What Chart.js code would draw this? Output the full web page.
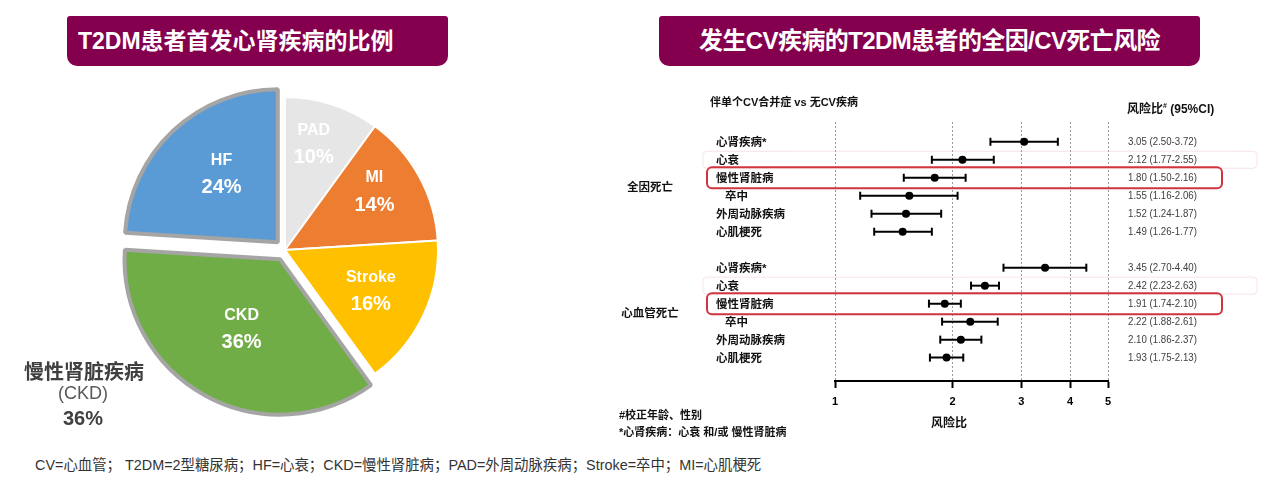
<!DOCTYPE html>
<html>
<head>
<meta charset="utf-8">
<script src="https://cdn.jsdelivr.net/npm/chart.js@4.4.1/dist/chart.umd.min.js"></script>
<style>
  body { margin: 0; background: #fff; font-family: "Liberation Sans", "Noto Sans CJK SC", sans-serif; }
  #wrap { position: relative; width: 1269px; height: 478px; overflow: hidden; }
  .banner { position: absolute; top: 16px; height: 50px; background: #84004F; border-radius: 3px 3px 10px 10px;
            color: #fff; font-weight: bold; font-size: 24px; line-height: 50px; white-space: nowrap; }
  .t { position: absolute; white-space: nowrap; }
  .fb { font-weight: bold; font-size: 11px; color: #111; line-height: 14px; }
  canvas { position: absolute; }
</style>
</head>
<body>
<div id="wrap">
  <div class="banner" style="left:67px;width:381px;"><span style="position:absolute;left:11px;font-size:23px;">T2DM患者首发心肾疾病的比例</span></div>
  <div class="banner" style="left:659px;width:541px;text-align:center;letter-spacing:-0.6px;">发生CV疾病的T2DM患者的全因/CV死亡风险</div>

  <canvas id="pie" width="380" height="380" style="left:95px;top:60px;"></canvas>

  <div class="t" style="left:0;width:168px;text-align:center;top:360px;font-size:20px;line-height:24px;font-weight:bold;color:#404040;">慢性肾脏疾病</div>
  <div class="t" style="left:0;width:166px;text-align:center;top:383px;font-size:18px;line-height:20px;color:#595959;">(CKD)</div>
  <div class="t" style="left:0;width:166px;text-align:center;top:407px;font-size:20px;line-height:22px;font-weight:bold;color:#404040;">36%</div>

  <canvas id="forest" width="669" height="360" style="left:600px;top:80px;"></canvas>

  <div class="t fb" style="left:710px;top:95px;">伴单个CV合并症 vs 无CV疾病</div>
  <div class="t fb" style="left:1127px;top:99px;font-size:12px;">风险比<sup style="font-size:7px;">#</sup> (95%CI)</div>
  <div class="t fb" style="left:619px;top:408px;">#校正年龄、性别</div>
  <div class="t fb" style="left:619px;top:425px;">*心肾疾病：心衰 和/或 慢性肾脏病</div>
  <div class="t fb" style="left:909px;width:80px;text-align:center;top:416px;font-size:12px;">风险比</div>

  <div class="t" style="left:35px;top:457px;font-size:14.4px;line-height:16px;color:#333;">CV=心血管； T2DM=2型糖尿病；HF=心衰；CKD=慢性肾脏病；PAD=外周动脉疾病；Stroke=卒中；MI=心肌梗死</div>
</div>

<script>
// pie: share of first cardio-renal disease
const pieLabels = ['PAD', 'MI', 'Stroke', 'CKD', 'HF'];
const pieValues = [10, 14, 16, 36, 24];

// forest plot
const rowNames = ['心肾疾病*', '心衰', '慢性肾脏病', '卒中', '外周动脉疾病', '心肌梗死'];
const groupNames = ['全因死亡', '心血管死亡'];
const hrAll = [3.05, 2.12, 1.80, 1.55, 1.52, 1.49];
const loAll = [2.50, 1.77, 1.50, 1.16, 1.24, 1.26];
const hiAll = [3.72, 2.55, 2.16, 2.06, 1.87, 1.77];
const hrCV = [3.45, 2.42, 1.91, 2.22, 2.10, 1.93];
const loCV = [2.70, 2.23, 1.74, 1.88, 1.86, 1.75];
const hiCV = [4.40, 2.63, 2.10, 2.61, 2.37, 2.13];
const xTicks = [1, 2, 3, 4, 5];

const LATIN_CJK = '"Liberation Sans", "Noto Sans CJK SC", sans-serif';

const pieText = {
  id: 'pieText',
  afterDatasetsDraw(chart, args, opts) {
    const ctx = chart.ctx;
    const ds = chart.data.datasets[0];
    chart.getDatasetMeta(0).data.forEach((arc, i) => {
      const p = arc.getProps(['x', 'y', 'startAngle', 'endAngle', 'outerRadius'], true);
      const mid = (p.startAngle + p.endAngle) / 2 + opts.turn[i];
      const shift = (ds.offset[i] || 0) / 4 + p.outerRadius * opts.radial[i];
      const cx = p.x + Math.cos(mid) * shift;
      const cy = p.y + Math.sin(mid) * shift;
      ctx.save();
      ctx.fillStyle = '#fff';
      ctx.textAlign = 'center';
      ctx.textBaseline = 'middle';
      ctx.font = 'bold 16px ' + LATIN_CJK;
      ctx.fillText(chart.data.labels[i], cx, cy - 13);
      ctx.font = 'bold 20px ' + LATIN_CJK;
      ctx.fillText(ds.data[i] + '%', cx, cy + 14);
      ctx.restore();
    });
  }
};

new Chart(document.getElementById('pie'), {
  type: 'pie',
  data: {
    labels: pieLabels,
    datasets: [{
      data: pieValues,
      backgroundColor: ['#E7E6E6', '#ED7D31', '#FFC000', '#70AD47', '#5B9BD5'],
      borderColor: ['#fff', '#fff', '#fff', '#A5A5A5', '#A5A5A5'],
      borderWidth: [2, 2, 2, 4, 4],
      offset: [0, 0, 0, 42, 42],
      hoverOffset: 0,
      radius: 153
    }]
  },
  options: {
    responsive: false,
    animation: false,
    events: [],
    plugins: {
      legend: { display: false },
      tooltip: { enabled: false },
      pieText: { radial: [0.72, 0.70, 0.62, 0.52, 0.58], turn: [-0.05, -0.08, 0, 0, 0.06] }
    }
  },
  plugins: [pieText]
});

// rows: group 0 at y 0..5, blank row, group 1 at y 7..12
const groups = [
  { hr: hrAll, lo: loAll, hi: hiAll },
  { hr: hrCV, lo: loCV, hi: hiCV }
];
const rows = [];
groups.forEach((g, gi) => {
  rowNames.forEach((name, i) => {
    rows.push({ name, hr: g.hr[i], lo: g.lo[i], hi: g.hi[i], y: gi * 7 + i, group: gi, idx: i });
  });
});

const ciSets = rows.map(r => ({
  data: [{ x: r.lo, y: r.y }, { x: r.hi, y: r.y }],
  showLine: true,
  borderColor: '#000',
  borderWidth: 2,
  pointStyle: 'line',
  rotation: 90,
  pointRadius: 4,
  pointHoverRadius: 4,
  pointBorderWidth: 2,
  pointBorderColor: '#000'
}));
const hrSet = {
  data: rows.map(r => ({ x: r.hr, y: r.y })),
  pointRadius: 4,
  pointHoverRadius: 4,
  pointBackgroundColor: '#000',
  pointBorderColor: '#000',
  pointBorderWidth: 0
};

function roundRect(ctx, x, y, w, h, r) {
  ctx.beginPath();
  ctx.moveTo(x + r, y);
  ctx.arcTo(x + w, y, x + w, y + h, r);
  ctx.arcTo(x + w, y + h, x, y + h, r);
  ctx.arcTo(x, y + h, x, y, r);
  ctx.arcTo(x, y, x + w, y, r);
  ctx.closePath();
}

const forestText = {
  id: 'forestText',
  afterDraw(chart) {
    const ctx = chart.ctx;
    const ys = chart.scales.y;
    ctx.save();
    // faint frame round 心衰 rows, red frame round CKD rows
    rows.forEach(r => {
      const py = ys.getPixelForValue(r.y);
      if (r.idx === 1) {
        ctx.strokeStyle = 'rgba(236,175,190,0.35)';
        ctx.lineWidth = 1;
        roundRect(ctx, 103, py - 8.5, 554, 17, 4);
        ctx.stroke();
      }
      if (r.idx === 2) {
        ctx.strokeStyle = '#D0353F';
        ctx.lineWidth = 2;
        roundRect(ctx, 107, py - 10.5, 515, 21, 5);
        ctx.stroke();
      }
    });
    ctx.textBaseline = 'middle';
    rows.forEach(r => {
      const py = ys.getPixelForValue(r.y);
      ctx.fillStyle = '#111';
      ctx.textAlign = 'left';
      ctx.font = 'bold 11.5px ' + LATIN_CJK;
      ctx.fillText(r.name, 116 + (r.name === '卒中' ? 9 : 0), py + 1);
      // CI text, squeezed like a narrow face
      ctx.save();
      ctx.translate(528, py);
      ctx.scale(0.88, 1);
      ctx.fillStyle = '#404040';
      ctx.font = '11px "Liberation Sans Narrow", "Liberation Sans", sans-serif';
      ctx.fillText(r.hr.toFixed(2) + ' (' + r.lo.toFixed(2) + '-' + r.hi.toFixed(2) + ')', 0, 0);
      ctx.restore();
    });
    groupNames.forEach((g, gi) => {
      const ysOfGroup = rows.filter(r => r.group === gi).map(r => r.y);
      const mean = ysOfGroup.reduce((a, b) => a + b, 0) / ysOfGroup.length;
      ctx.fillStyle = '#111';
      ctx.textAlign = 'center';
      ctx.font = 'bold 11.5px ' + LATIN_CJK;
      ctx.fillText(g, 50, ys.getPixelForValue(mean) + 1);
    });
    ctx.restore();
  }
};

new Chart(document.getElementById('forest'), {
  type: 'scatter',
  data: { datasets: [...ciSets, hrSet] },
  options: {
    responsive: false,
    animation: false,
    events: [],
    layout: { padding: { left: 235, right: 161, top: 42, bottom: 29 } },
    plugins: { legend: { display: false }, tooltip: { enabled: false } },
    scales: {
      x: {
        type: 'logarithmic',
        min: 1,
        max: 5,
        afterBuildTicks: s => { s.ticks = xTicks.map(v => ({ value: v })); },
        afterFit: s => { s.height = 30; },
        ticks: {
          autoSkip: false,
          maxRotation: 0,
          padding: 7,
          color: '#000',
          font: { family: 'Liberation Sans', size: 11, weight: 'bold' },
          callback: v => String(v)
        },
        grid: { color: '#9a9a9a', lineWidth: 1, tickColor: '#000', tickWidth: 2, tickLength: 7 },
        border: { display: true, color: '#000', width: 2, dash: [2, 2] }
      },
      y: { type: 'linear', reverse: true, min: -1.1, max: 13.3, display: false }
    }
  },
  plugins: [forestText]
});
</script>
</body>
</html>
